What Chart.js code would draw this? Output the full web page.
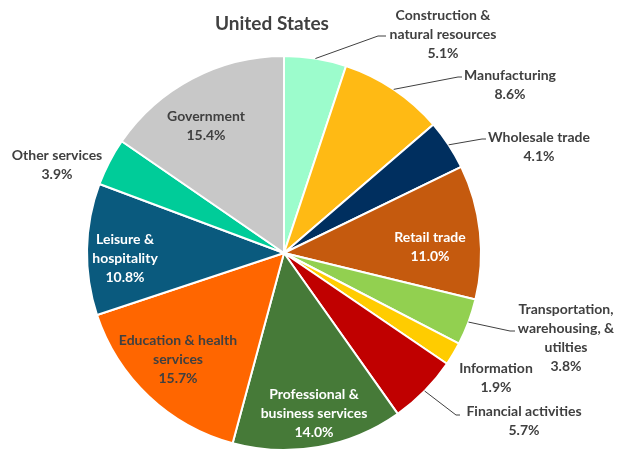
<!DOCTYPE html>
<html>
<head>
<meta charset="utf-8">
<script src="https://cdn.jsdelivr.net/npm/chart.js@4"></script>
<style>
  html, body { margin: 0; padding: 0; background: #fff; overflow: hidden; }
  #wrap { width: 623px; height: 451px; }
</style>
</head>
<body>
<div id="wrap"><canvas id="pie"></canvas></div>
<script>
// industry shares, clockwise from 12 o'clock
const sectors = [
    ['Construction &', 'natural resources'],
    ['Manufacturing'],
    ['Wholesale trade'],
    ['Retail trade'],
    ['Transportation,', 'warehousing, &', 'utilties'],
    ['Information'],
    ['Financial activities'],
    ['Professional &', 'business services'],
    ['Education & health', 'services'],
    ['Leisure &', 'hospitality'],
    ['Other services'],
    ['Government']
];
const shares = [5.1, 8.6, 4.1, 11.0, 3.8, 1.9, 5.7, 14.0, 15.7, 10.8, 3.9, 15.4];
const colors = ['#9cfccc', '#ffba14', '#002f5f', '#c55a0e', '#92d050', '#ffcc00',
                '#c00000', '#467a38', '#ff6600', '#0a5a7e', '#00cc99', '#c8c8c8'];

// label placement: text centre x, first line y, colour, leader end (or null)
const labelPos = [
    {x: 443, y: 15, c: '#404040', lead: [[378, 36], [386, 36]]},
    {x: 510, y: 75, c: '#404040', lead: [[458, 77], [462, 77]]},
    {x: 539, y: 137, c: '#404040', lead: [[482, 139], [486, 139]]},
    {x: 430, y: 237, c: '#ffffff', lead: null},
    {x: 566, y: 309, c: '#404040', lead: [[510, 331], [515, 331]]},
    {x: 496, y: 368, c: '#404040', lead: null},
    {x: 524, y: 411, c: '#404040', lead: [[456, 415], [460, 415]]},
    {x: 314, y: 394, c: '#ffffff', lead: null},
    {x: 178, y: 340, c: '#404040', lead: null},
    {x: 125, y: 239, c: '#ffffff', lead: null},
    {x: 57, y: 155, c: '#404040', lead: null},
    {x: 206, y: 116, c: '#404040', lead: null}
];

const labelPlugin = {
    id: 'sliceLabels',
    afterDatasetsDraw(chart) {
        const ctx = chart.ctx;
        const arcs = chart.getDatasetMeta(0).data;
        ctx.save();
        // title
        ctx.fillStyle = '#404040';
        ctx.font = 'bold 19px Lato';
        ctx.textAlign = 'center';
        ctx.textBaseline = 'middle';
        ctx.fillText('United States', 272, 24);

        arcs.forEach(function(arc, i) {
            const p = labelPos[i];
            if (p.lead) {
                const mid = (arc.startAngle + arc.endAngle) / 2;
                const sx = arc.x + Math.cos(mid) * arc.outerRadius;
                const sy = arc.y + Math.sin(mid) * arc.outerRadius;
                ctx.strokeStyle = '#404040';
                ctx.lineWidth = 1;
                ctx.beginPath();
                ctx.moveTo(sx, sy);
                p.lead.forEach(function(pt) { ctx.lineTo(pt[0], pt[1]); });
                ctx.stroke();
            }
            const lines = sectors[i].concat([shares[i].toFixed(1) + '%']);
            ctx.fillStyle = p.c;
            ctx.font = 'bold 14px Lato';
            lines.forEach(function(t, k) {
                ctx.fillText(t, p.x, p.y + k * 19);
            });
        });
        ctx.restore();
    }
};

new Chart(document.getElementById('pie').getContext('2d'), {
    type: 'pie',
    data: {
        labels: sectors.map(s => s.join(' ')),
        datasets: [{
            data: shares,
            backgroundColor: colors,
            borderColor: '#ffffff',
            borderWidth: 2
        }]
    },
    options: {
        responsive: true,
        maintainAspectRatio: false,
        animation: false,
        layout: { padding: {top: 55, bottom: 0, left: 85, right: 140} },
        plugins: {
            legend: { display: false },
            tooltip: { enabled: false }
        }
    },
    plugins: [labelPlugin]
});
</script>
</body>
</html>
